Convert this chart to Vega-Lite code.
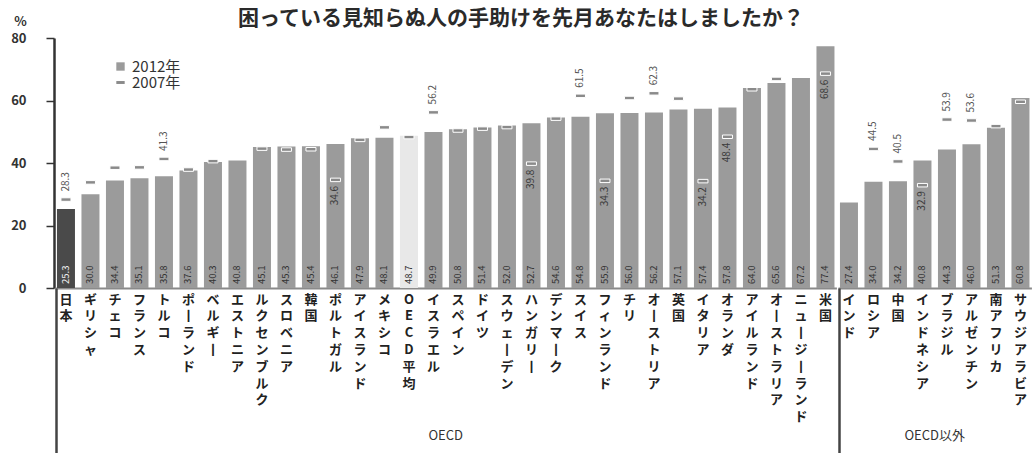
{
  "$schema": "https://vega.github.io/schema/vega-lite/v6.json",
  "background": "white",
  "padding": {"left": 10, "top": 8, "right": 0, "bottom": 0},
  "title": {
    "text": "困っている見知らぬ人の手助けを先月あなたはしましたか？",
    "font": "Noto Sans CJK JP",
    "fontSize": 21,
    "fontWeight": "bold",
    "color": "#2a2a2a",
    "anchor": "middle",
    "frame": "bounds",
    "offset": -14
  },
  "data": {
    "values": [
      {"c": "日本", "g": "OECD", "v12": 25.3, "v07": 28.3, "n07": true},
      {"c": "ギリシャ", "g": "OECD", "v12": 30.0, "v07": 33.8, "n07": false},
      {"c": "チェコ", "g": "OECD", "v12": 34.4, "v07": 38.5, "n07": false},
      {"c": "フランス", "g": "OECD", "v12": 35.1, "v07": 38.6, "n07": false},
      {"c": "トルコ", "g": "OECD", "v12": 35.8, "v07": 41.3, "n07": true},
      {"c": "ポーランド", "g": "OECD", "v12": 37.6, "v07": 37.9, "n07": false},
      {"c": "ベルギー", "g": "OECD", "v12": 40.3, "v07": 40.6, "n07": false},
      {"c": "エストニア", "g": "OECD", "v12": 40.8, "v07": null, "n07": false},
      {"c": "ルクセンブルク", "g": "OECD", "v12": 45.1, "v07": 44.6, "n07": false},
      {"c": "スロベニア", "g": "OECD", "v12": 45.3, "v07": 44.3, "n07": false},
      {"c": "韓国", "g": "OECD", "v12": 45.4, "v07": 44.4, "n07": false},
      {"c": "ポルトガル", "g": "OECD", "v12": 46.1, "v07": 34.6, "n07": true},
      {"c": "アイスランド", "g": "OECD", "v12": 47.9, "v07": 47.4, "n07": false},
      {"c": "メキシコ", "g": "OECD", "v12": 48.1, "v07": 51.4, "n07": false},
      {"c": "OECD平均", "g": "OECD", "v12": 48.7, "v07": 48.3, "n07": false},
      {"c": "イスラエル", "g": "OECD", "v12": 49.9, "v07": 56.2, "n07": true},
      {"c": "スペイン", "g": "OECD", "v12": 50.8, "v07": 50.4, "n07": false},
      {"c": "ドイツ", "g": "OECD", "v12": 51.4, "v07": 51.0, "n07": false},
      {"c": "スウェーデン", "g": "OECD", "v12": 52.0, "v07": 51.5, "n07": false},
      {"c": "ハンガリー", "g": "OECD", "v12": 52.7, "v07": 39.8, "n07": true},
      {"c": "デンマーク", "g": "OECD", "v12": 54.6, "v07": 54.2, "n07": false},
      {"c": "スイス", "g": "OECD", "v12": 54.8, "v07": 61.5, "n07": true},
      {"c": "フィンランド", "g": "OECD", "v12": 55.9, "v07": 34.3, "n07": true},
      {"c": "チリ", "g": "OECD", "v12": 56.0, "v07": 60.8, "n07": false},
      {"c": "オーストリア", "g": "OECD", "v12": 56.2, "v07": 62.3, "n07": true},
      {"c": "英国", "g": "OECD", "v12": 57.1, "v07": 60.6, "n07": false},
      {"c": "イタリア", "g": "OECD", "v12": 57.4, "v07": 34.2, "n07": true},
      {"c": "オランダ", "g": "OECD", "v12": 57.8, "v07": 48.4, "n07": true},
      {"c": "アイルランド", "g": "OECD", "v12": 64.0, "v07": 63.6, "n07": false},
      {"c": "オーストラリア", "g": "OECD", "v12": 65.6, "v07": 66.9, "n07": false},
      {"c": "ニュージーランド", "g": "OECD", "v12": 67.2, "v07": null, "n07": false},
      {"c": "米国", "g": "OECD", "v12": 77.4, "v07": 68.6, "n07": true},
      {"c": "インド", "g": "OECD以外", "v12": 27.4, "v07": null, "n07": false},
      {"c": "ロシア", "g": "OECD以外", "v12": 34.0, "v07": 44.5, "n07": true},
      {"c": "中国", "g": "OECD以外", "v12": 34.2, "v07": 40.5, "n07": true},
      {"c": "インドネシア", "g": "OECD以外", "v12": 40.8, "v07": 32.9, "n07": true},
      {"c": "ブラジル", "g": "OECD以外", "v12": 44.3, "v07": 53.9, "n07": true},
      {"c": "アルゼンチン", "g": "OECD以外", "v12": 46.0, "v07": 53.6, "n07": true},
      {"c": "南アフリカ", "g": "OECD以外", "v12": 51.3, "v07": 51.8, "n07": false},
      {"c": "サウジアラビア", "g": "OECD以外", "v12": 60.8, "v07": 59.6, "n07": false}
    ]
  },
  "facet": {
    "column": {
      "field": "g",
      "type": "nominal",
      "sort": ["OECD", "OECD以外"],
      "header": {
        "title": null,
        "labelOrient": "bottom",
        "labelFont": "Noto Sans CJK JP",
        "labelFontSize": 13,
        "labelColor": "#333",
        "labelPadding": -26
      }
    }
  },
  "spacing": 0,
  "resolve": {"scale": {"x": "independent"}},
  "spec": {
    "width": {"step": 24.5},
    "height": 250,
    "resolve": {"axis": {"x": "independent"}},
    "layer": [
      {
        "mark": {"type": "bar"},
        "encoding": {
          "x": {
            "field": "c",
            "type": "nominal",
            "sort": null,
            "scale": {"paddingInner": 0.265, "paddingOuter": 0.08},
            "axis": {
              "orient": "bottom",
              "title": null,
              "domain": true,
              "domainColor": "#8a8a8a",
              "domainWidth": 2,
              "ticks": false,
              "labelAngle": 0,
              "labelAlign": "center",
              "labelBaseline": "top",
              "labelPadding": 5,
              "labelFont": "Noto Sans CJK JP",
              "labelFontSize": 13,
              "labelFontWeight": "bold",
              "labelLineHeight": 16.8,
              "labelColor": "#222",
              "labelOverlap": false,
              "labelBound": false,
              "labelLimit": 0,
              "labelExpr": "split(replace(replace(datum.label, 'ー', '丨'), 'ー', '丨'), '')"
            }
          },
          "y": {
            "field": "v12",
            "type": "quantitative",
            "scale": {"domain": [0, 80], "nice": false, "zero": true},
            "axis": {
              "title": "%",
              "titleAngle": 0,
              "titleAlign": "center",
              "titleBaseline": "bottom",
              "titleX": -34,
              "titleY": -10,
              "titleFont": "Noto Sans CJK JP",
              "titleFontSize": 13,
              "titleFontWeight": "bold",
              "titleColor": "#333",
              "values": [0, 10, 20, 30, 40, 50, 60, 70, 80],
              "grid": false,
              "domainColor": "#333",
              "domainWidth": 2.5,
              "tickColor": "#333",
              "tickWidth": 1.5,
              "tickSize": 8,
              "labelPadding": 20,
              "labelFont": "Noto Sans CJK JP",
              "labelFontSize": 13,
              "labelFontWeight": "bold",
              "labelColor": "#333"
            }
          },
          "color": {
            "datum": "2012年",
            "type": "nominal",
            "scale": {"domain": ["2012年", "2007年"], "range": ["#9b9b9b", "#8a8a8a"]},
            "condition": [
              {"test": "datum.c === '日本'", "value": "#4a4a4a"},
              {"test": "datum.c === 'OECD平均'", "value": "#e8e8e8"}
            ],
            "legend": {
              "title": null,
              "orient": "none",
              "legendX": 58,
              "legendY": 21,
              "labelFont": "Noto Sans CJK JP",
              "labelFontSize": 15,
              "labelColor": "#333",
              "symbolSize": 70,
              "rowPadding": 0,
              "labelOffset": 4,
              "encode": {
                "symbols": {
                  "update": {
                    "shape": {"signal": "datum.value === '2012年' ? 'square' : 'M-1,-0.35L1,-0.35L1,0.35L-1,0.35Z'"},
                    "strokeWidth": {"value": 0}
                  }
                }
              }
            }
          }
        }
      },
      {
        "mark": {"type": "text", "angle": 270, "align": "left", "baseline": "middle", "dx": 4, "font": "Noto Sans CJK JP", "fontSize": 9.5},
        "encoding": {
          "x": {"field": "c", "type": "nominal", "sort": null, "axis": null},
          "y": {"datum": 0, "type": "quantitative"},
          "text": {"field": "v12", "type": "quantitative", "format": ".1f"},
          "color": {
            "condition": {"test": "datum.c === '日本'", "value": "#eeeeee"},
            "value": "#333333"
          }
        }
      },
      {
        "transform": [{"filter": "datum.v07 != null"}],
        "mark": {"type": "tick", "thickness": 3.5, "size": 10, "stroke": "white", "strokeWidth": 1, "opacity": 1},
        "encoding": {
          "x": {
            "field": "c",
            "type": "nominal",
            "sort": null,
            "axis": {
              "orient": "bottom",
              "title": null,
              "labels": false,
              "domain": false,
              "ticks": true,
              "tickSize": 166,
              "tickWidth": 2.5,
              "tickColor": "#444",
              "bandPosition": 0,
              "tickOpacity": {"condition": {"test": "datum.index == 0", "value": 1}, "value": 0}
            }
          },
          "y": {"field": "v07", "type": "quantitative"},
          "color": {"datum": "2007年", "type": "nominal"}
        }
      },
      {
        "transform": [{"filter": "datum.n07 && datum.v07 > datum.v12"}],
        "mark": {"type": "text", "angle": 270, "align": "left", "baseline": "middle", "dx": 8, "font": "Noto Sans CJK JP", "fontSize": 10, "color": "#555"},
        "encoding": {
          "x": {"field": "c", "type": "nominal", "sort": null, "axis": null},
          "y": {"field": "v07", "type": "quantitative"},
          "text": {"field": "v07", "type": "quantitative", "format": ".1f"}
        }
      },
      {
        "transform": [{"filter": "datum.n07 && datum.v07 < datum.v12"}],
        "mark": {"type": "text", "angle": 270, "align": "right", "baseline": "middle", "dx": -6, "font": "Noto Sans CJK JP", "fontSize": 10, "color": "#3a3a3a"},
        "encoding": {
          "x": {"field": "c", "type": "nominal", "sort": null, "axis": null},
          "y": {"field": "v07", "type": "quantitative"},
          "text": {"field": "v07", "type": "quantitative", "format": ".1f"}
        }
      }
    ]
  },
  "config": {
    "view": {"stroke": null},
    "font": "Noto Sans CJK JP"
  }
}
